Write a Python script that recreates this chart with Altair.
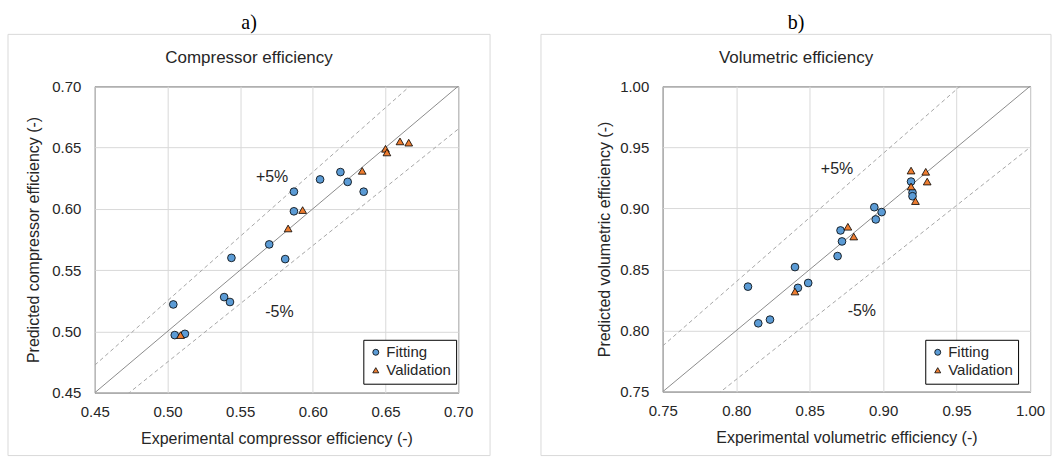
import altair as alt
import pandas as pd

# ---------- Panel a) Compressor efficiency ----------
a_fit_x = [0.504, 0.505, 0.512, 0.539, 0.543, 0.544, 0.570, 0.581, 0.587, 0.587, 0.605, 0.619, 0.624, 0.635]
a_fit_y = [0.522, 0.497, 0.498, 0.528, 0.524, 0.560, 0.571, 0.559, 0.614, 0.598, 0.624, 0.630, 0.622, 0.614]
a_val_x = [0.509, 0.583, 0.593, 0.634, 0.650, 0.651, 0.660, 0.666]
a_val_y = [0.497, 0.584, 0.599, 0.631, 0.649, 0.646, 0.655, 0.654]
a_ticks = [0.45, 0.50, 0.55, 0.60, 0.65, 0.70]
a_note_x = [0.572, 0.577]
a_note_y = [0.626, 0.516]

# ---------- Panel b) Volumetric efficiency ----------
b_fit_x = [0.808, 0.815, 0.823, 0.840, 0.842, 0.849, 0.869, 0.871, 0.872, 0.894, 0.899, 0.895, 0.919, 0.920, 0.920]
b_fit_y = [0.836, 0.806, 0.809, 0.852, 0.835, 0.839, 0.861, 0.882, 0.873, 0.901, 0.897, 0.891, 0.922, 0.913, 0.910]
b_val_x = [0.840, 0.876, 0.880, 0.919, 0.929, 0.930, 0.919, 0.922]
b_val_y = [0.832, 0.885, 0.877, 0.931, 0.930, 0.922, 0.918, 0.906]
b_ticks = [0.75, 0.80, 0.85, 0.90, 0.95, 1.00]
b_note_x = [0.8686, 0.8855]
b_note_y = [0.932, 0.8158]

notes = ["+5%", "-5%"]
series = ["Fitting", "Validation"]
series_colors = ["#5B9BD5", "#ED7D31"]
series_outline = ["#000000", "#000000"]
series_shapes = ["circle", "triangle-up"]
band_factors = [1.0, 1.05, 0.95]

FONT = "Liberation Sans"
TXT = "#262626"


def panel(fit_x, fit_y, val_x, val_y, ticks, note_x, note_y, letter, title,
          x_title, y_title, w, h, box, bounds, y_title_x, legend_xy):
    lo, hi = ticks[0], ticks[-1]
    xs = alt.Scale(domain=[lo, hi], nice=False, zero=False)
    ys = alt.Scale(domain=[lo, hi], nice=False, zero=False)
    common = dict(values=ticks, format=".2f", grid=True, gridColor="#d9d9d9", gridWidth=1,
                  ticks=False, tickSize=0, domain=False, labelFont=FONT, labelFontSize=15,
                  labelColor=TXT, labelFlush=False, labelOverlap=False,
                  titleFont=FONT, titleFontSize=16, titleFontWeight="normal", titleColor=TXT)
    xaxis = alt.Axis(title=x_title, labelPadding=12, titleX=w / 2, titleY=46,
                     titleBaseline="middle", **common)
    yaxis = alt.Axis(title=y_title, labelPadding=14, titleX=y_title_x, titleY=h / 2,
                     titleAngle=270, titleBaseline="middle", titleAlign="center", **common)
    X = alt.X("x:Q", scale=xs, axis=xaxis)
    Y = alt.Y("y:Q", scale=ys, axis=yaxis)

    one = pd.DataFrame({"t": [letter], "s": [title]})

    bound_rect = alt.Chart(one).mark_rect(fill="white", opacity=0).encode(
        x=alt.value(bounds[0]), x2=alt.value(bounds[1]),
        y=alt.value(bounds[2]), y2=alt.value(bounds[3]))
    box_rect = alt.Chart(one).mark_rect(fill="white", fillOpacity=0, stroke="#d9d9d9",
                                        strokeWidth=1).encode(
        x=alt.value(box[0]), x2=alt.value(box[1]),
        y=alt.value(box[2]), y2=alt.value(box[3]))

    lx, ly, lk = [], [], []
    for k in band_factors:
        lx += [lo, hi]
        ly += [k * lo, k * hi]
        lk += [str(k), str(k)]
    lines = pd.DataFrame({"x": lx, "y": ly, "k": lk})
    solid = alt.Chart(lines[lines.k == "1.0"]).mark_line(
        clip=True, color="#8c8c8c", strokeWidth=1).encode(x=X, y=Y, detail="k:N")
    dashed = alt.Chart(lines[lines.k != "1.0"]).mark_line(
        clip=True, color="#a6a6a6", strokeWidth=1, strokeDash=[4, 3]).encode(x=X, y=Y, detail="k:N")

    pts = pd.DataFrame({
        "x": fit_x + val_x,
        "y": fit_y + val_y,
        "series": [series[0]] * len(fit_x) + [series[1]] * len(val_x),
    })
    leg = alt.Legend(title=None, orient="none", legendX=legend_xy[0], legendY=legend_xy[1],
                     fillColor="white", strokeColor="black", padding=5,
                     labelFont=FONT, labelFontSize=15, labelColor=TXT, symbolSize=36,
                     symbolStrokeWidth=0.8, rowPadding=2, labelOffset=3, symbolOpacity=1)
    points = alt.Chart(pts).mark_point(filled=True, strokeWidth=0.8, fillOpacity=1,
                                       strokeOpacity=1, size=60, opacity=1).encode(
        x=X, y=Y,
        stroke=alt.Stroke("series:N", scale=alt.Scale(domain=series, range=series_outline), legend=leg),
        fill=alt.Fill("series:N", scale=alt.Scale(domain=series, range=series_colors), legend=leg),
        shape=alt.Shape("series:N", scale=alt.Scale(domain=series, range=series_shapes), legend=leg),
    )

    ann = pd.DataFrame({"x": note_x, "y": note_y, "t": notes})
    ann_text = alt.Chart(ann).mark_text(font=FONT, fontSize=16, color=TXT).encode(
        x=X, y=Y, text="t:N")

    cx = (box[0] + box[1]) / 2
    letter_t = alt.Chart(one).mark_text(font="Liberation Serif", fontSize=20, color="black",
                                        baseline="middle").encode(
        x=alt.value(cx), y=alt.value(-63), text="t:N")
    title_t = alt.Chart(one).mark_text(font=FONT, fontSize=17, color=TXT,
                                       baseline="middle").encode(
        x=alt.value(cx), y=alt.value(-28), text="s:N")

    return alt.layer(bound_rect, box_rect, solid, dashed, points, ann_text,
                     letter_t, title_t).properties(width=w, height=h)


pa = panel(a_fit_x, a_fit_y, a_val_x, a_val_y, a_ticks, a_note_x, a_note_y,
           "a)", "Compressor efficiency",
           "Experimental compressor efficiency (-)", "Predicted compressor efficiency (-)",
           364, 307, box=(-87, 396, -52, 370), bounds=(-94, 436, -85, 376),
           y_title_x=-61, legend_xy=(269, 254))
pb = panel(b_fit_x, b_fit_y, b_val_x, b_val_y, b_ticks, b_note_x, b_note_y,
           "b)", "Volumetric efficiency",
           "Experimental volumetric efficiency (-)", "Predicted volumetric efficiency (-)",
           368, 306, box=(-122, 389, -52, 370), bounds=(-133, 396, -85, 376),
           y_title_x=-58, legend_xy=(263, 254))

chart = alt.hconcat(pa, pb, spacing=205, bounds="flush").resolve_scale(
    x="independent", y="independent", fill="independent", shape="independent",
    stroke="independent"
).properties(padding=0, background="white").configure_view(stroke="black", strokeWidth=1)

chart.save("out.html", embed_options={"renderer": "svg", "actions": False})
